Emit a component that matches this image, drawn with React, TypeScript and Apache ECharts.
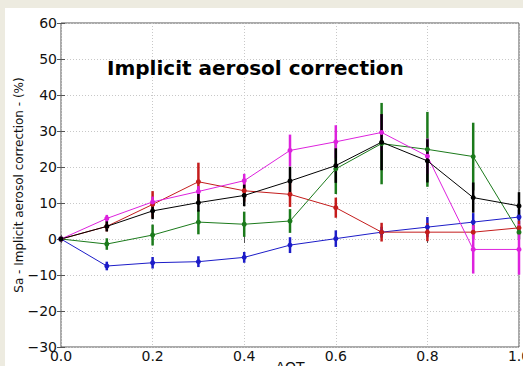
import React, { useEffect, useRef } from "react";
import * as echarts from "echarts";

const aot = [0, 0.1, 0.2, 0.3, 0.4, 0.5, 0.6, 0.7, 0.8, 0.9, 1.0];
const yTicks = { min: -30, max: 60, interval: 10 };
const xTicks = { min: 0, max: 1, interval: 0.2 };

const blueVals = [0, -7.5, -6.6, -6.3, -5.1, -1.7, 0.1, 1.9, 3.3, 4.7, 6.1];
const blueErr = [0, 1.2, 1.6, 1.5, 1.5, 2.2, 2.3, 1.5, 2.8, 2.5, 2];
const redVals = [0, 3.5, 9.6, 15.9, 13.4, 12.4, 8.7, 1.9, 1.9, 1.9, 3.1];
const redErr = [0, 1.4, 3.7, 5.3, 3, 3.5, 2.8, 2.6, 2.5, 2, 2];
const greenVals = [0, -1.4, 1.1, 4.7, 4.1, 5.0, 19.5, 26.5, 24.9, 22.9, 1.9];
const greenErr = [0, 1.6, 2.9, 3.4, 3.5, 3.3, 7, 11.3, 10.4, 9.4, 2];
const magentaVals = [0, 5.7, 10.3, 13.2, 16.2, 24.6, 27.0, 29.6, 23.0, -2.9, -2.9];
const magentaErr = [0, 1, 1.5, 1.5, 1.9, 4.4, 4.6, 5, 4.9, 6.7, 7];
const blackVals = [0, 3.5, 7.8, 10.1, 12.1, 16.1, 20.4, 26.9, 21.7, 11.5, 9.2];
const blackErr = [0, 1.4, 2.3, 2.5, 3, 4, 4.8, 7.8, 6, 4.2, 3.8];

const seriesDefs = [
  { name: "blue", vals: blueVals, err: blueErr, color: "#1c1cc8" },
  { name: "red", vals: redVals, err: redErr, color: "#c41c1c" },
  { name: "green", vals: greenVals, err: greenErr, color: "#1b7a1b" },
  { name: "magenta", vals: magentaVals, err: magentaErr, color: "#dd22dd" },
  { name: "black", vals: blackVals, err: blackErr, color: "#000000" },
];

const titleText = "Implicit aerosol correction";
const yName = "Sa - Implicit aerosol correction - (%)";
const xName = "AOT";

export default function App() {
  const ref = useRef<HTMLDivElement>(null);
  useEffect(() => {
    if (!ref.current) return;
    const chart = echarts.init(ref.current, undefined, { renderer: "svg" });
    const series: any[] = [];
    seriesDefs.forEach((s) => {
      series.push({
        type: "custom",
        name: s.name + "-err",
        data: aot.map((x, i) => [x, s.vals[i], s.err[i]]),
        renderItem: (params: any, api: any) => {
          const x = api.value(0);
          const y = api.value(1);
          const e = api.value(2);
          if (!e) return null;
          const p1 = api.coord([x, y - e]);
          const p2 = api.coord([x, y + e]);
          return {
            type: "line",
            shape: { x1: p1[0], y1: p1[1], x2: p2[0], y2: p2[1] },
            style: { stroke: s.color, lineWidth: 2.5 },
          };
        },
        z: 2,
      });
      series.push({
        type: "line",
        name: s.name,
        data: aot.map((x, i) => [x, s.vals[i]]),
        symbol: "circle",
        symbolSize: 5,
        lineStyle: { color: s.color, width: 1 },
        itemStyle: { color: s.color },
        z: 3,
      });
    });
    const fmtY = (v: number) => String(v).replace("-", "\u2212");
    chart.setOption({
      animation: false,
      backgroundColor: "transparent",
      grid: {
        left: 61,
        top: 23,
        right: 4,
        bottom: 19,
        show: true,
        borderColor: "#555",
        borderWidth: 1,
        backgroundColor: "transparent",
        containLabel: false,
        outerBoundsMode: "none",
      },
      xAxis: [
        {
          type: "value",
          ...xTicks,
          name: xName,
          nameLocation: "middle",
          nameGap: 13,
          nameMoveOverlap: false,
          nameTextStyle: { fontFamily: "DejaVu Sans", fontSize: 14, color: "#111", verticalAlign: "top" },
          axisLine: { show: false },
          axisTick: { show: true, inside: true, length: 4, lineStyle: { color: "#555" } },
          axisLabel: {
            fontFamily: "DejaVu Sans",
            fontSize: 14,
            color: "#111",
            margin: 2,
            formatter: (v: number) => v.toFixed(1),
          },
          splitLine: { show: true, lineStyle: { color: "#c8c8c8", type: [1, 2], width: 1 } },
        },
        {
          type: "value",
          position: "top",
          ...xTicks,
          axisLine: { show: false },
          axisTick: { show: true, inside: true, length: 4, lineStyle: { color: "#555" } },
          axisLabel: { show: false },
          splitLine: { show: false },
        },
      ],
      yAxis: [
        {
          type: "value",
          ...yTicks,
          name: yName,
          nameLocation: "middle",
          nameGap: 36,
          nameMoveOverlap: false,
          nameTextStyle: { fontFamily: "DejaVu Sans", fontSize: 12, color: "#111" },
          axisLine: { show: false },
          axisTick: { show: true, inside: true, length: 4, lineStyle: { color: "#555" } },
          axisLabel: {
            fontFamily: "DejaVu Sans",
            fontSize: 14,
            color: "#111",
            margin: 4,
            formatter: fmtY,
          },
          splitLine: { show: true, lineStyle: { color: "#c8c8c8", type: [1, 2], width: 1 } },
        },
        {
          type: "value",
          position: "right",
          ...yTicks,
          axisLine: { show: false },
          axisTick: { show: true, inside: true, length: 4, lineStyle: { color: "#555" } },
          axisLabel: { show: false },
          splitLine: { show: false },
        },
      ],
      graphic: [
        {
          type: "text",
          left: 107,
          top: 58,
          z: 10,
          style: {
            text: titleText,
            fontFamily: "DejaVu Sans",
            fontWeight: "bold",
            fontSize: 20,
            fill: "#000",
          },
        },
      ],
      series,
    });
    return () => chart.dispose();
  }, []);
  return (
    <div
      style={{
        position: "fixed",
        left: 0,
        top: 0,
        width: 523,
        height: 366,
        background: "#edebe0",
        overflow: "hidden",
      }}
    >
      <div
        style={{
          position: "absolute",
          left: 5,
          top: 8,
          right: 0,
          bottom: 0,
          background: "#ffffff",
        }}
      />
      <div ref={ref} style={{ position: "absolute", left: 0, top: 0, width: 523, height: 366 }} />
    </div>
  );
}
